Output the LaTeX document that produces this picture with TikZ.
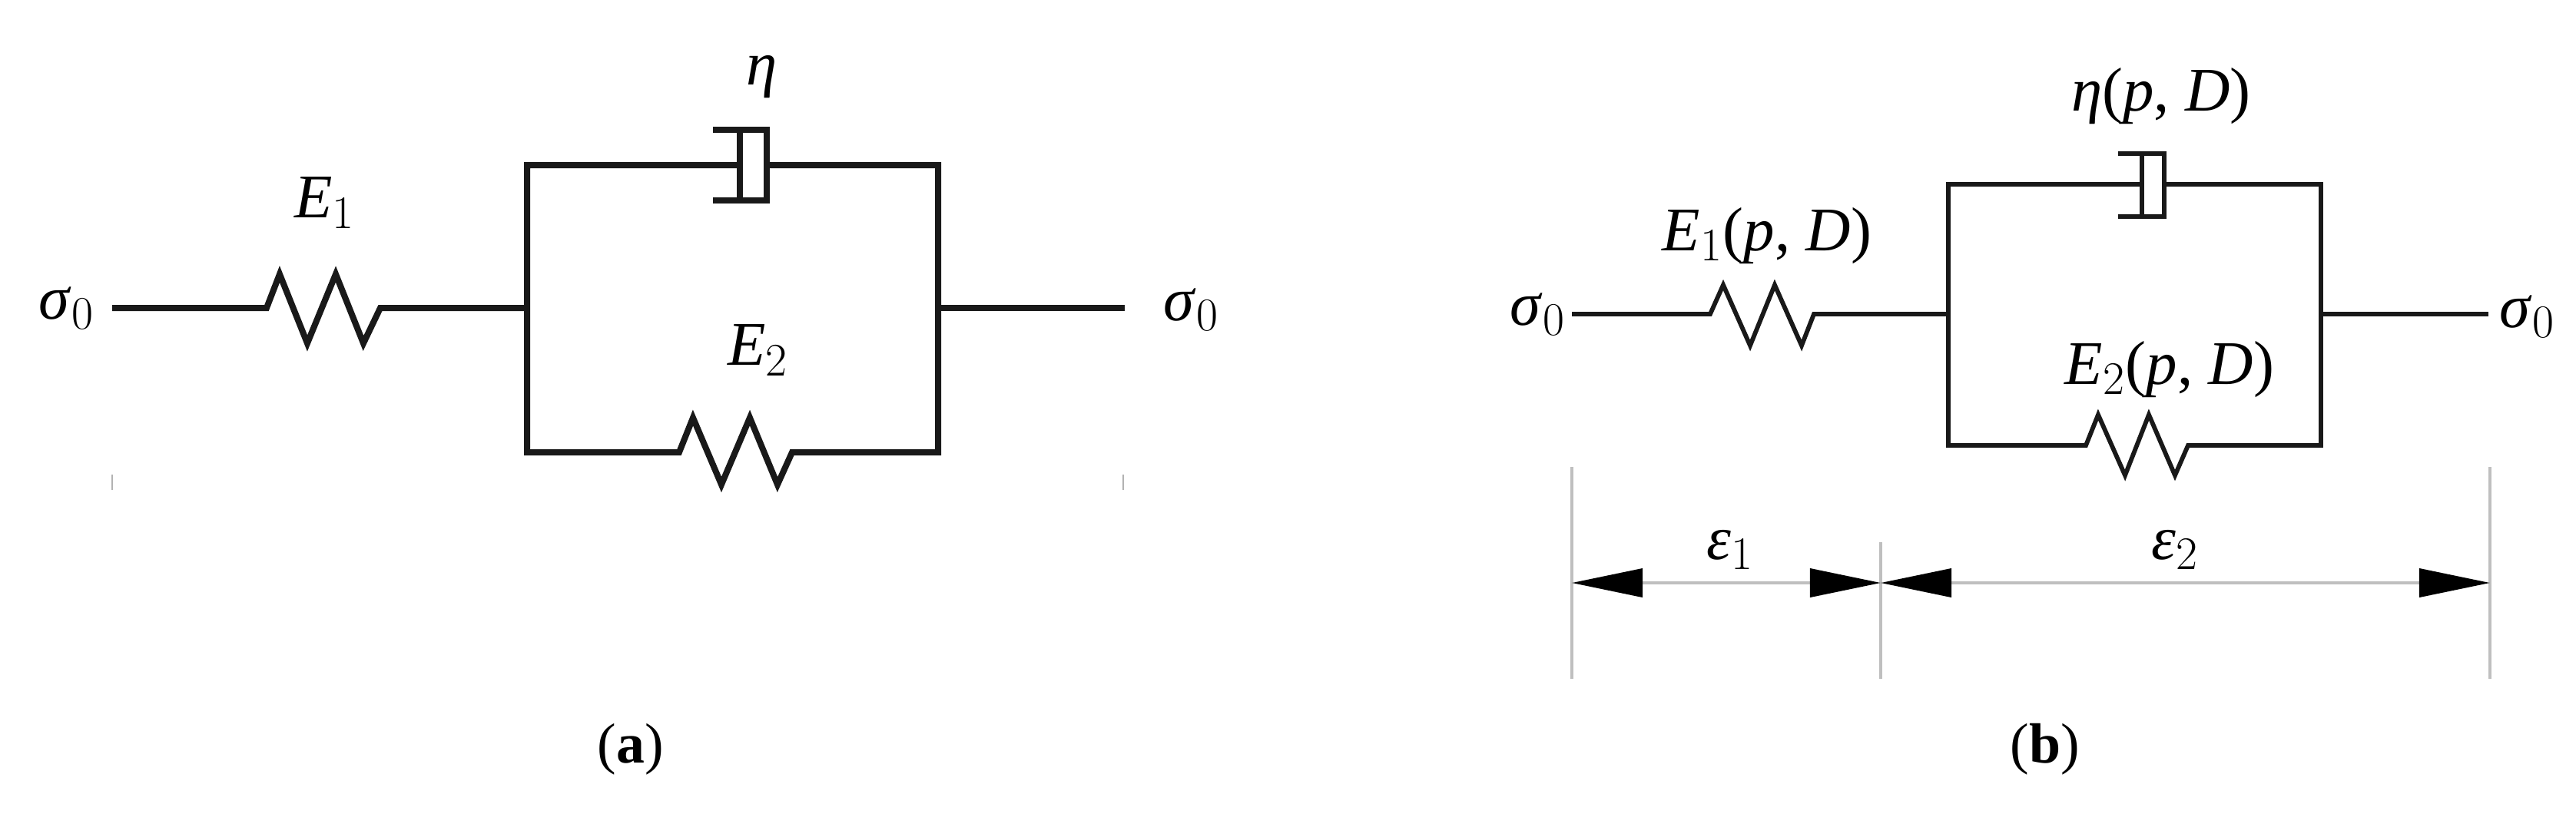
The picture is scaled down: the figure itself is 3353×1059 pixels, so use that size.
\documentclass[tikz,border=0pt]{standalone}
\usepackage{fontspec}
\setmainfont{Liberation Serif}
\usetikzlibrary{arrows.meta}
\tikzset{
  lbl/.style={inner sep=0pt,font=\fontsize{23}{26}\selectfont},
  capt/.style={inner sep=0pt,font=\fontsize{21}{24}\selectfont},
  wirea/.style={line width=0.08cm,black!90},
  wireb/.style={line width=0.058cm,black!90},
  dimline/.style={line width=0.038cm,black!25},
  dimarrow/.style={dimline,{Triangle[length=0.92cm,width=0.37cm,color=black]}-{Triangle[length=0.92cm,width=0.37cm,color=black]}}
}
\begin{document}
\begin{tikzpicture}[x=0.01cm,y=-0.01cm]
  \useasboundingbox (0,0) rectangle (3353,1059);
  % panel (a)
  \coordinate (aL) at (146,401);
  \coordinate (aR) at (1464,401);
  \coordinate (aJl) at (686,401);
  \coordinate (aJr) at (1221,401);
  \coordinate (aTl) at (686,215);
  \coordinate (aTr) at (1221,215);
  \coordinate (aBl) at (686,589);
  \coordinate (aBr) at (1221,589);
  \coordinate (aPl) at (963,215);
  \coordinate (aPr) at (998,215);
  \draw[wirea] (aL) -- (347,401) -- (364,357) -- (400,447) -- (437,357) -- (473,447) -- (495,401) -- (aJl);
  \draw[wirea] (aJr) -- (aR);
  \draw[wirea] (aPl) -- (aTl) -- (aBl) -- (884,589) -- (902,544) -- (939,631) -- (976,544) -- (1012,631) -- (1031,589) -- (aBr) -- (aTr) -- (aPr);
  \draw[wirea] (928,169) -- (998,169) -- (998,261) -- (928,261);
  \draw[wirea] (963,169) -- (963,261);
  \foreach \x in {146,1462}
  \draw[line width=0.02cm,black!30] (\x,618) -- (\x,638);
  \node[lbl] (etaa) at (992,100) {\textit{η}};
  \node[lbl] (Ea) at (423,264) {\textit{E}$_1$};
  \node[lbl] (Eb) at (987,456) {\textit{E}$_2$};
  \node[lbl] (sigal) at (87,401) {\textit{σ}$_0$};
  \node[lbl] (sigar) at (1551,403) {\textit{σ}$_0$};
  \node[capt] (capa) at (821,976) {(\textbf{a})};
  % panel (b)
  \coordinate (bL) at (2046,409);
  \coordinate (bR) at (3239,409);
  \coordinate (bJl) at (2536,409);
  \coordinate (bJr) at (3021,409);
  \coordinate (bTl) at (2536,240);
  \coordinate (bTr) at (3021,240);
  \coordinate (bBl) at (2536,580);
  \coordinate (bBr) at (3021,580);
  \coordinate (bPl) at (2788,240);
  \coordinate (bPr) at (2817,240);
  \draw[wireb] (bL) -- (2226,409) -- (2243,371) -- (2278,450) -- (2310,371) -- (2345,450) -- (2361,409) -- (bJl);
  \draw[wireb] (bJr) -- (bR);
  \draw[wireb] (bPl) -- (bTl) -- (bBl) -- (2715,580) -- (2731,540) -- (2766,619) -- (2797,540) -- (2831,619) -- (2848,580) -- (bBr) -- (bTr) -- (bPr);
  \draw[wireb] (2757,200) -- (2817,200) -- (2817,282) -- (2757,282);
  \draw[wireb] (2788,200) -- (2788,282);
  % strain marks
  \coordinate (dA) at (2046,759);
  \coordinate (dB) at (2448,759);
  \coordinate (dC) at (3241,759);
  \draw[dimline] (2046,608) -- (2046,884);
  \draw[dimline] (2448,706) -- (2448,884);
  \draw[dimline] (3241,608) -- (3241,884);
  \draw[dimarrow] (dA) -- (dB);
  \draw[dimarrow] (dB) -- (dC);
  \node[lbl] (etab) at (2813,125) {\textit{η}(\textit{p}, \textit{D})};
  \node[lbl] (Eap) at (2300,307) {\textit{E}$_1$(\textit{p}, \textit{D})};
  \node[lbl] (Ebp) at (2824,481) {\textit{E}$_2$(\textit{p}, \textit{D})};
  \node[lbl] (sigbl) at (2002,409) {\textit{σ}$_0$};
  \node[lbl] (sigbr) at (3290,412) {\textit{σ}$_0$};
  \node[lbl] (epsa) at (2252,716) {\textit{ε}$_1$};
  \node[lbl] (epsb) at (2831,716) {\textit{ε}$_2$};
  \node[capt] (capb) at (2662,976) {(\textbf{b})};
\end{tikzpicture}
\end{document}
